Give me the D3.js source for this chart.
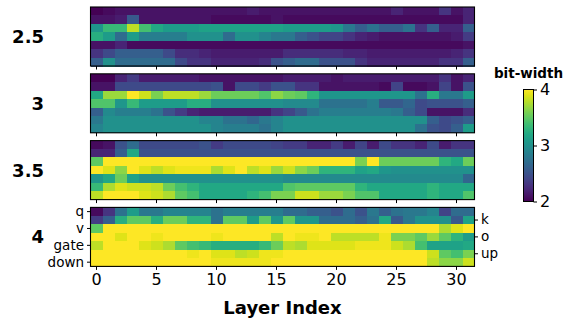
<!DOCTYPE html>
<html>
<head>
<meta charset="utf-8">
<script src="https://cdn.jsdelivr.net/npm/d3@7"></script>
<style>
    body { margin: 0; background: #fff; }
    svg { display: block; font-family: "DejaVu Sans", sans-serif; }
</style>
</head>
<body>
<svg id="chart" width="573" height="320"></svg>
<script>
// ====================
// DATA
// ====================
var layers = d3.range(32);
var modules = ["q", "k", "v", "o", "gate", "up", "down"];
var budgets = ["2.5", "3", "3.5", "4"];
var xTicks = [0, 5, 10, 15, 20, 25, 30];
var leftLabels = ["q", "v", "gate", "down"];
var rightLabels = ["k", "o", "up"];
var cbarTicks = [2, 3, 4];

// bit-width per module (rows) and layer (columns)
var bits25 = [
    [2.0,2.05,2.1,2.1,2.1,2.1,2.1,2.1,2.1,2.1,2.1,2.1,2.1,2.15,2.1,2.1, 2.1,2.1,2.1,2.1,2.1,2.1,2.1,2.1,2.1,2.2,2.1,2.1,2.1,2.3,2.1,2.2],
    [2.1,2.1,2.15,2.55,2.1,2.1,2.1,2.1,2.1,2.1,2.05,2.05,2.05,2.05,2.05,2.1, 2.05,2.05,2.05,2.05,2.05,2.05,2.05,2.05,2.05,2.05,2.05,2.05,2.05,2.05,2.05,2.2],
    [3.05,3.35,3.35,3.8,3.4,3.2,3.1,3.1,3.1,3.15,3.15,3.15,3.15,3.15,3.15,3.15, 3.1,3.1,3.1,3.1,3.05,2.8,2.6,2.75,2.6,2.6,2.75,2.3,2.6,2.2,2.2,2.6],
    [3.25,3.1,2.7,3.1,2.85,2.85,2.85,2.85,3.0,3.0,3.0,2.7,3.0,3.0,2.9,2.8, 2.8,2.6,2.5,2.4,2.4,2.3,2.2,2.15,2.1,2.1,2.1,2.1,2.1,2.1,2.15,2.35],
    [2.1,2.1,2.2,2.05,2.05,2.05,2.05,2.05,2.05,2.05,2.05,2.05,2.05,2.05,2.05,2.05, 2.05,2.05,2.05,2.05,2.05,2.05,2.05,2.05,2.05,2.05,2.05,2.05,2.05,2.05,2.05,2.1],
    [2.3,2.45,2.6,2.6,2.6,2.6,2.45,2.25,2.25,2.2,2.15,2.15,2.15,2.15,2.15,2.15, 2.25,2.25,2.25,2.25,2.25,2.2,2.2,2.15,2.15,2.15,2.15,2.15,2.15,2.15,2.2,2.3],
    [2.6,3.0,2.7,2.7,2.7,2.7,2.7,2.45,2.3,2.3,2.2,2.2,2.2,2.2,2.25,2.5, 2.6,2.7,2.7,2.5,2.5,2.5,2.3,2.2,2.2,2.2,2.2,2.2,2.2,2.3,2.3,2.6]
];
var bits3 = [
    [2.0,2.0,2.2,2.35,2.15,2.15,2.15,2.15,2.15,2.1,2.1,2.1,2.1,2.1,2.1,2.1, 2.15,2.15,2.15,2.15,2.1,2.15,2.15,2.15,2.15,2.15,2.15,2.15,2.15,2.3,2.1,2.2],
    [2.1,2.1,2.45,2.45,2.45,2.45,2.45,2.45,2.45,2.45,2.5,2.1,2.45,2.45,2.35,2.5, 2.5,2.3,2.3,2.1,2.1,2.1,2.1,2.1,2.05,2.4,2.05,2.05,2.1,2.4,2.1,2.5],
    [3.2,3.7,3.7,4.0,3.85,3.6,3.8,3.8,3.8,3.7,3.55,3.55,3.55,3.55,3.45,3.65, 3.55,3.5,3.3,3.05,3.05,3.05,3.05,3.05,3.05,3.05,3.05,2.75,3.25,2.8,2.8,3.1],
    [3.45,3.45,3.05,3.35,3.1,3.1,3.1,3.1,3.25,3.25,3.0,3.0,3.0,3.0,3.0,3.0, 2.95,2.95,2.95,2.75,2.75,2.75,2.75,2.85,2.55,2.55,2.65,2.45,2.5,2.5,2.5,2.6],
    [2.6,2.95,2.85,2.85,2.85,2.75,2.5,2.35,2.2,2.15,2.15,2.15,2.15,2.15,2.15,2.3, 2.4,2.55,2.75,2.85,2.85,2.85,2.85,2.85,2.85,2.8,2.6,2.45,2.1,2.1,2.1,2.25],
    [2.8,3.0,3.0,3.0,3.0,3.0,3.0,3.0,3.0,2.9,2.9,2.75,2.75,2.65,2.8,2.9, 3.0,3.0,3.0,3.0,3.0,3.0,3.0,3.0,3.0,3.0,3.0,3.0,2.6,2.45,2.5,2.6],
    [2.9,3.0,3.0,3.0,3.0,3.0,3.0,3.0,3.0,3.0,2.9,2.85,2.85,2.85,2.75,2.9, 3.0,3.0,3.0,3.0,3.0,3.0,3.0,3.0,3.0,3.0,3.0,2.75,2.5,2.45,2.6,3.1]
];
var bits35 = [
    [2.05,2.1,2.5,2.7,2.45,2.45,2.45,2.45,2.45,2.5,2.35,2.45,2.45,2.45,2.45,2.4, 2.35,2.35,2.2,2.2,2.35,2.15,2.4,2.15,2.45,2.3,2.3,2.2,2.45,2.15,2.3,2.3],
    [2.2,2.2,2.6,3.2,2.5,2.5,2.5,2.5,2.5,2.5,2.5,2.5,2.5,2.5,2.5,2.5, 2.5,2.5,2.5,2.5,2.5,2.5,2.5,2.5,2.5,2.5,2.5,2.5,2.5,2.5,2.5,2.5],
    [3.5,4.0,4.0,4.0,4.0,4.0,4.0,4.0,4.0,4.0,4.0,4.0,4.0,4.0,4.0,4.0, 4.0,4.0,4.0,4.0,4.0,4.0,3.6,4.0,3.55,3.55,3.55,3.55,3.55,3.3,3.2,3.55],
    [4.0,3.9,3.65,4.0,3.9,3.8,3.9,3.95,3.95,3.95,3.75,3.9,4.0,3.8,3.9,3.7, 3.85,3.65,3.55,3.3,3.3,3.3,3.15,3.2,3.05,3.0,3.0,3.0,3.0,3.0,3.0,3.0],
    [3.05,3.2,3.55,3.15,3.0,3.0,3.0,3.0,3.0,3.0,3.0,3.0,3.0,3.0,3.0,3.0, 2.95,2.95,2.95,2.95,2.95,2.95,2.95,2.95,2.95,2.95,2.95,2.95,2.95,2.95,2.95,2.65],
    [3.35,3.75,3.9,3.85,3.85,3.8,3.55,3.4,3.3,3.2,3.2,3.2,3.2,3.2,3.2,3.2, 3.45,3.5,3.5,3.5,3.5,3.5,3.3,3.2,3.2,3.2,3.2,3.2,3.3,3.2,3.2,3.2],
    [3.8,4.0,4.0,4.0,3.9,3.85,3.75,3.5,3.4,3.2,3.2,3.2,3.2,3.3,3.4,3.6, 3.6,3.85,3.85,3.7,3.7,3.6,3.45,3.45,3.2,3.2,3.2,3.2,3.3,3.2,3.2,3.45]
];
var bits4 = [
    [2.05,2.3,2.75,3.1,2.8,2.8,2.9,2.9,2.9,2.9,2.75,2.85,2.85,2.85,2.85,2.85, 2.7,2.7,2.6,2.6,2.5,2.7,2.5,2.8,2.6,2.75,2.8,2.8,2.9,2.4,2.7,2.7],
    [2.35,2.6,3.25,3.5,3.5,3.25,3.55,3.55,3.3,3.3,2.75,3.5,3.5,3.1,3.5,3.05, 3.5,3.05,3.05,2.7,2.7,2.7,2.6,2.75,3.2,2.55,2.8,3.0,3.0,3.0,2.55,3.15],
    [3.5,4.0,4.0,4.0,4.0,4.0,4.0,4.0,4.0,4.0,4.0,4.0,4.0,4.0,4.0,4.0, 4.0,4.0,4.0,4.0,4.0,4.0,4.0,4.0,4.0,4.0,4.0,4.0,4.0,3.75,3.9,4.0],
    [4.0,4.0,3.9,4.0,4.0,3.95,4.0,4.0,4.0,4.0,3.95,4.0,4.0,4.0,4.0,3.8, 4.0,3.95,3.95,4.0,3.8,3.8,3.8,3.8,3.95,3.6,3.6,3.5,3.7,3.5,3.3,3.1],
    [3.8,4.0,4.0,4.0,3.9,3.85,3.75,3.5,3.4,3.35,3.25,3.25,3.25,3.25,3.35,3.55, 3.8,3.75,3.9,3.9,3.9,3.9,3.95,3.95,3.95,3.85,3.75,3.4,3.15,3.15,3.15,3.2],
    [4.0,4.0,4.0,4.0,4.0,4.0,4.0,4.0,3.95,4.0,3.9,3.9,3.8,3.85,3.95,3.95, 4.0,4.0,4.0,4.0,4.0,4.0,4.0,4.0,4.0,4.0,4.0,4.0,3.85,3.5,3.4,3.6],
    [4.0,4.0,4.0,4.0,4.0,4.0,4.0,4.0,4.0,4.0,3.95,3.95,3.95,3.95,3.95,4.0, 4.0,4.0,4.0,4.0,4.0,4.0,4.0,4.0,4.0,4.0,4.0,4.0,3.8,3.65,3.65,3.85]
];
var panels = [bits25, bits3, bits35, bits4];

// ====================
// LAYOUT
// ====================
var svg = d3.select("#chart");
var left = 90.5, right = 474.5;
var panelTop = 7, panelH = 59, panelStep = 66.8;

var x = d3.scaleBand().domain(layers).range([left, right]);
var color = d3.scaleSequential(d3.interpolateViridis).domain([2, 4]);

// ####################################
// # one heatmap per bit budget
// ####################################
panels.forEach(function (grid, i) {
    var top = panelTop + i * panelStep;
    var y = d3.scaleBand().domain(modules).range([top, top + panelH]);
    var g = svg.append("g");

    var cells = [];
    grid.forEach(function (row, r) {
        row.forEach(function (v, c) {
            cells.push({ m: modules[r], l: layers[c], v: v });
        });
    });

    g.append("g")
        .attr("shape-rendering", "crispEdges")
        .selectAll("rect")
        .data(cells).enter()
        .append("rect")
        .attr("x", function (d) { return x(d.l); })
        .attr("y", function (d) { return y(d.m); })
        .attr("width", x.bandwidth() + 0.6)
        .attr("height", y.bandwidth() + 0.6)
        .attr("fill", function (d) { return color(d.v); });

    // x ticks below every panel, labels only on the last one
    var xa = g.append("g")
        .attr("transform", "translate(0," + (top + panelH) + ")")
        .call(d3.axisBottom(x).tickValues(xTicks).tickSize(3.5).tickPadding(4));
    xa.select(".domain").remove();
    xa.selectAll("line").attr("stroke", "#000").attr("stroke-width", 1);
    xa.selectAll("text")
        .attr("font-size", 16)
        .attr("font-family", "DejaVu Sans")
        .attr("fill", "#000")
        .style("display", i === panels.length - 1 ? null : "none");

    if (i === panels.length - 1) {
        var ya = g.append("g")
            .attr("transform", "translate(" + left + ",0)")
            .call(d3.axisLeft(y).tickValues(leftLabels).tickSize(3.5).tickPadding(3));
        var yb = g.append("g")
            .attr("transform", "translate(" + right + ",0)")
            .call(d3.axisRight(y).tickValues(rightLabels).tickSize(3.5).tickPadding(3));
        [ya, yb].forEach(function (a) {
            a.select(".domain").remove();
            a.selectAll("line").attr("stroke", "#000").attr("stroke-width", 1);
            a.selectAll("text")
                .attr("font-size", 13.5)
                .attr("font-family", "DejaVu Sans")
                .attr("fill", "#000");
        });
    }

    g.append("rect")
        .attr("x", left)
        .attr("y", top)
        .attr("width", right - left)
        .attr("height", panelH)
        .attr("fill", "none")
        .attr("stroke", "#000")
        .attr("stroke-width", 1.1);

    svg.append("text")
        .attr("x", 44)
        .attr("y", top + panelH / 2)
        .attr("dy", "0.36em")
        .attr("text-anchor", "end")
        .attr("font-size", 18)
        .attr("font-weight", "bold")
        .text(budgets[i]);
});

// x axis title
svg.append("text")
    .attr("x", (left + right) / 2)
    .attr("y", 314)
    .attr("text-anchor", "middle")
    .attr("font-size", 18)
    .attr("font-weight", "bold")
    .text("Layer Index");

// ######################################
// # colorbar
// ######################################
var cbX = 523.5, cbW = 10, cbTop = 89.5, cbBottom = 201.5;
var grad = svg.append("defs").append("linearGradient")
    .attr("id", "viridis")
    .attr("x1", 0).attr("y1", 1).attr("x2", 0).attr("y2", 0);
d3.range(0, 1.0001, 0.05).forEach(function (t) {
    grad.append("stop")
        .attr("offset", t)
        .attr("stop-color", d3.interpolateViridis(t));
});

svg.append("rect")
    .attr("x", cbX)
    .attr("y", cbTop)
    .attr("width", cbW)
    .attr("height", cbBottom - cbTop)
    .attr("fill", "url(#viridis)")
    .attr("stroke", "#000")
    .attr("stroke-width", 1);

var cbScale = d3.scaleLinear().domain([2, 4]).range([cbBottom, cbTop]);
var cbAxis = svg.append("g")
    .attr("transform", "translate(" + (cbX + cbW) + ",0)")
    .call(d3.axisRight(cbScale).tickValues(cbarTicks).tickFormat(d3.format("d")).tickSize(3.5).tickPadding(3));
cbAxis.select(".domain").remove();
cbAxis.selectAll("line").attr("stroke", "#000");
cbAxis.selectAll("text")
    .attr("font-size", 16)
    .attr("font-family", "DejaVu Sans")
    .attr("fill", "#000");

svg.append("text")
    .attr("x", cbX + cbW / 2)
    .attr("y", 78)
    .attr("text-anchor", "middle")
    .attr("font-size", 13.5)
    .attr("font-weight", "bold")
    .text("bit-width");
</script>
</body>
</html>
